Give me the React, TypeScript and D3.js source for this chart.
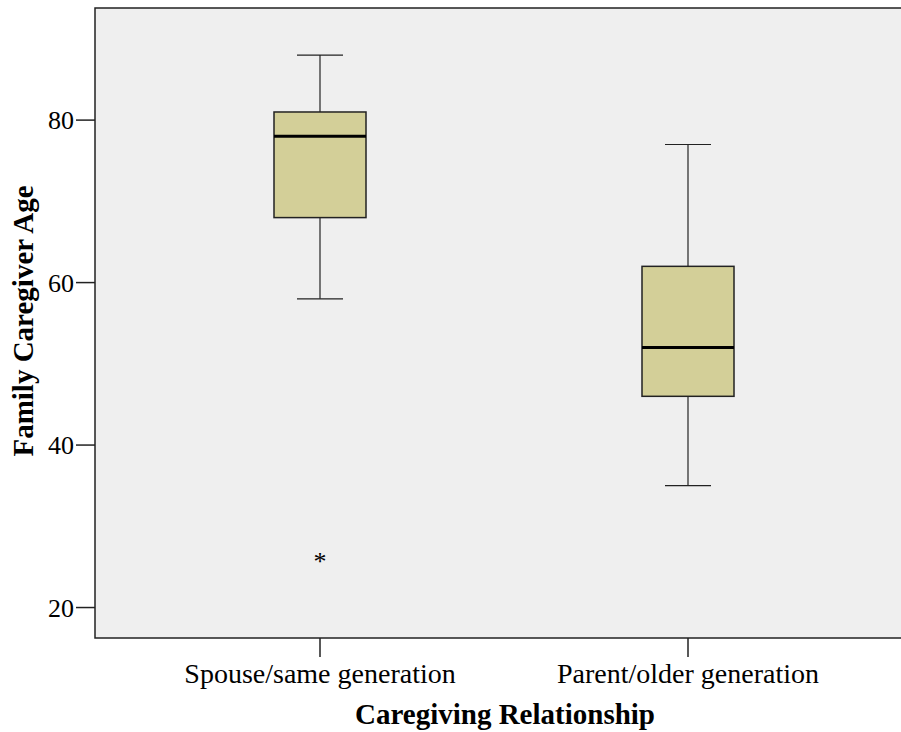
import * as d3 from 'd3';
import React from 'react';

const categories = ['Spouse/same generation', 'Parent/older generation'];
const whiskerLow = [58, 35];
const q1 = [68, 46];
const medians = [78, 52];
const q3 = [81, 62];
const whiskerHigh = [88, 77];
const outliers = [[26], []];
const yTicks = [20, 40, 60, 80];

const W = 901;
const H = 732;
const plot = { left: 95, top: 8, right: 901, bottom: 638 };

const App = () => {
  const y = d3.scaleLinear().domain([16.25, 93.8]).range([plot.bottom, plot.top]);
  const x = d3.scaleBand().domain(categories).range([136, 872]);
  const centerX = (c: string) => (x(c) as number) + x.bandwidth() / 2;
  const boxW = 92;
  const capW = 46;
  const font = '"Liberation Serif", "Times New Roman", serif';

  return (
    <svg width={W} height={H} style={{ position: 'absolute', left: 0, top: 0 }}>
      <rect
        x={plot.left}
        y={plot.top}
        width={plot.right - plot.left + 2}
        height={plot.bottom - plot.top}
        fill="#efefef"
        stroke="#222"
        strokeWidth={1.5}
      />
      {yTicks.map((t) => (
        <g key={t}>
          <line x1={76} x2={plot.left} y1={y(t)} y2={y(t)} stroke="#222" strokeWidth={1.5} />
          <text x={74} y={y(t) + 9} textAnchor="end" fontFamily={font} fontSize={26}>
            {t}
          </text>
        </g>
      ))}
      {categories.map((c, i) => {
        const cx = centerX(c);
        return (
          <g key={c}>
            <line x1={cx} x2={cx} y1={plot.bottom} y2={plot.bottom + 19} stroke="#222" strokeWidth={1.5} />
            <text x={cx} y={683} textAnchor="middle" fontFamily={font} fontSize={28}>
              {c}
            </text>
            <line x1={cx} x2={cx} y1={y(whiskerHigh[i])} y2={y(q3[i])} stroke="#222" strokeWidth={1.2} />
            <line x1={cx} x2={cx} y1={y(q1[i])} y2={y(whiskerLow[i])} stroke="#222" strokeWidth={1.2} />
            <line x1={cx - capW / 2} x2={cx + capW / 2} y1={y(whiskerHigh[i])} y2={y(whiskerHigh[i])} stroke="#222" strokeWidth={1.2} />
            <line x1={cx - capW / 2} x2={cx + capW / 2} y1={y(whiskerLow[i])} y2={y(whiskerLow[i])} stroke="#222" strokeWidth={1.2} />
            <rect
              x={cx - boxW / 2}
              y={y(q3[i])}
              width={boxW}
              height={y(q1[i]) - y(q3[i])}
              fill="#d3cf98"
              stroke="#222"
              strokeWidth={1.5}
            />
            <line x1={cx - boxW / 2} x2={cx + boxW / 2} y1={y(medians[i])} y2={y(medians[i])} stroke="#000" strokeWidth={3} />
            {outliers[i].map((o) => (
              <text key={o} x={cx} y={y(o) + 11} textAnchor="middle" fontFamily={font} fontSize={26}>
                *
              </text>
            ))}
          </g>
        );
      })}
      <text x={505} y={724} textAnchor="middle" fontFamily={font} fontSize={29} fontWeight="bold">
        Caregiving Relationship
      </text>
      <text
        transform={`translate(33, 321) rotate(-90)`}
        textAnchor="middle"
        fontFamily={font}
        fontSize={29}
        fontWeight="bold"
      >
        Family Caregiver Age
      </text>
    </svg>
  );
};

export default App;
